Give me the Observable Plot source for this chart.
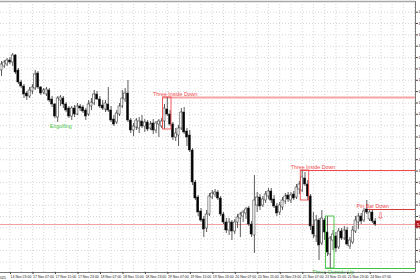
<!DOCTYPE html>
<html><head><meta charset="utf-8">
<script src="https://cdn.jsdelivr.net/npm/d3@7"></script>
<script src="https://cdn.jsdelivr.net/npm/@observablehq/plot@0.6"></script>
<style>html,body{margin:0;padding:0;background:#fff;overflow:hidden}</style>
</head><body><div id="chart"></div>
<script>
// H1 candles, 14 Nov 20:00 -> 24 Nov 09:00 (index 0..133)
const openP = [1.1630,1.1634,1.1636,1.1640,1.1638,1.1645,1.1630,1.1618,1.1614,1.1607,
1.1604,1.1609,1.1612,1.1627,1.1613,1.1608,1.1606,1.1610,1.1601,1.1596,
1.1583,1.1600,1.1602,1.1596,1.1592,1.1584,1.1592,1.1586,1.1594,1.1593,
1.1590,1.1586,1.1594,1.1597,1.1606,1.1601,1.1595,1.1591,1.1596,1.1590,
1.1581,1.1578,1.1586,1.1594,1.1601,1.1607,1.1580,1.1570,1.1573,1.1572,
1.1579,1.1574,1.1578,1.1572,1.1577,1.1570,1.1576,1.1574,1.1579,1.1591,
1.1586,1.1576,1.1563,1.1565,1.1572,1.1588,1.1569,1.1565,1.1550,1.1518,
1.1503,1.1489,1.1481,1.1472,1.1486,1.1503,1.1506,1.1508,1.1502,1.1486,
1.1478,1.1470,1.1478,1.1469,1.1478,1.1482,1.1484,1.1487,1.1492,1.1476,
1.1465,1.1495,1.1503,1.1495,1.1500,1.1504,1.1509,1.1501,1.1494,1.1488,
1.1493,1.1499,1.1505,1.1500,1.1506,1.1503,1.1511,1.1510,1.1522,1.1516,
1.1504,1.1474,1.1464,1.1480,1.1457,1.1480,1.1468,1.1446,1.1460,1.1464,
1.1453,1.1469,1.1462,1.1470,1.1454,1.1458,1.1469,1.1478,1.1484,1.1480,
1.1491,1.1481,1.1488,1.1479];
const highP = [1.1639,1.1640,1.1642,1.1643,1.1647,1.1646,1.1632,1.1620,1.1616,1.1609,
1.1613,1.1616,1.1630,1.1629,1.1614,1.1612,1.1613,1.1612,1.1604,1.1597,
1.1604,1.1605,1.1604,1.1598,1.1594,1.1594,1.1595,1.1597,1.1596,1.1595,
1.1592,1.1600,1.1602,1.1610,1.1609,1.1604,1.1600,1.1600,1.1613,1.1594,
1.1585,1.1590,1.1597,1.1610,1.1612,1.1620,1.1582,1.1577,1.1582,1.1583,
1.1585,1.1581,1.1580,1.1579,1.1581,1.1579,1.1581,1.1582,1.1596,1.1603,
1.1590,1.1578,1.1572,1.1575,1.1592,1.1593,1.1572,1.1570,1.1552,1.1520,
1.1505,1.1492,1.1484,1.1490,1.1507,1.1510,1.1511,1.1510,1.1504,1.1488,
1.1482,1.1482,1.1480,1.1481,1.1486,1.1488,1.1490,1.1493,1.1494,1.1479,
1.1525,1.1508,1.1506,1.1504,1.1509,1.1512,1.1512,1.1505,1.1497,1.1498,
1.1503,1.1507,1.1508,1.1508,1.1509,1.1516,1.1519,1.1530,1.1528,1.1520,
1.1506,1.1488,1.1485,1.1482,1.1490,1.1482,1.1484,1.1464,1.1470,1.1468,
1.1472,1.1472,1.1474,1.1473,1.1463,1.1474,1.1484,1.1487,1.1487,1.1492,
1.1500,1.1490,1.1490,1.1482];
const lowP = [1.1624,1.1632,1.1634,1.1636,1.1634,1.1626,1.1616,1.1612,1.1602,1.1600,
1.1602,1.1606,1.1610,1.1611,1.1605,1.1606,1.1604,1.1598,1.1593,1.1582,
1.1578,1.1594,1.1592,1.1588,1.1582,1.1580,1.1583,1.1585,1.1589,1.1587,
1.1580,1.1584,1.1590,1.1595,1.1600,1.1592,1.1590,1.1588,1.1588,1.1578,
1.1574,1.1576,1.1584,1.1592,1.1598,1.1578,1.1567,1.1564,1.1570,1.1567,
1.1572,1.1568,1.1569,1.1570,1.1566,1.1567,1.1563,1.1572,1.1571,1.1584,
1.1574,1.1560,1.1559,1.1554,1.1570,1.1566,1.1554,1.1548,1.1515,1.1500,
1.1484,1.1478,1.1463,1.1468,1.1484,1.1501,1.1503,1.1500,1.1484,1.1476,
1.1467,1.1465,1.1460,1.1466,1.1472,1.1463,1.1478,1.1481,1.1474,1.1463,
1.1447,1.1488,1.1490,1.1493,1.1497,1.1501,1.1497,1.1492,1.1484,1.1485,
1.1490,1.1496,1.1498,1.1497,1.1500,1.1501,1.1506,1.1508,1.1514,1.1500,
1.1470,1.1462,1.1458,1.1440,1.1455,1.1460,1.1444,1.1432,1.1450,1.1448,
1.1451,1.1460,1.1460,1.1454,1.1451,1.1456,1.1467,1.1471,1.1476,1.1478,
1.1486,1.1479,1.1477,1.1474];
const closeP = [1.1636,1.1638,1.1640,1.1638,1.1645,1.1628,1.1618,1.1614,1.1606,1.1604,
1.1610,1.1613,1.1626,1.1613,1.1607,1.1610,1.1611,1.1600,1.1596,1.1584,
1.1602,1.1603,1.1596,1.1590,1.1584,1.1592,1.1586,1.1594,1.1592,1.1589,
1.1584,1.1596,1.1598,1.1606,1.1601,1.1594,1.1592,1.1597,1.1590,1.1580,
1.1576,1.1587,1.1594,1.1602,1.1607,1.1580,1.1570,1.1574,1.1580,1.1579,
1.1574,1.1578,1.1571,1.1576,1.1570,1.1577,1.1579,1.1579,1.1592,1.1586,
1.1576,1.1563,1.1567,1.1572,1.1588,1.1568,1.1563,1.1550,1.1518,1.1502,
1.1488,1.1480,1.1471,1.1486,1.1504,1.1507,1.1508,1.1502,1.1486,1.1478,
1.1470,1.1478,1.1469,1.1478,1.1483,1.1486,1.1488,1.1491,1.1476,1.1466,
1.1500,1.1503,1.1494,1.1501,1.1506,1.1509,1.1500,1.1494,1.1487,1.1495,
1.1500,1.1504,1.1501,1.1505,1.1502,1.1513,1.1516,1.1523,1.1516,1.1504,
1.1474,1.1466,1.1480,1.1455,1.1482,1.1468,1.1448,1.1462,1.1466,1.1452,
1.1469,1.1462,1.1470,1.1456,1.1460,1.1470,1.1480,1.1484,1.1479,1.1489,
1.1488,1.1488,1.1479,1.1476];

// time axis
const xTickIdx = [3,11,19,27,35,43,51,59,67,75,83,91,99,107,115,123,131];
const xTickLabels = ["14 Nov 23:00","17 Nov 07:00","17 Nov 15:00","17 Nov 23:00","18 Nov 07:00","18 Nov 15:00",
 "18 Nov 23:00","19 Nov 07:00","19 Nov 15:00","19 Nov 23:00","20 Nov 07:00","20 Nov 15:00","20 Nov 23:00",
 "21 Nov 07:00","21 Nov 15:00","21 Nov 23:00","24 Nov 07:00"];
const firstDateLabel = "14 Nov 2025";
// price axis (MT4 pixel-spaced grid)
const yTicks = [1.16883,1.16770,1.16656,1.16543,1.16429,1.16316,1.16202,1.16089,1.15975,1.15862,1.15748,
 1.15635,1.15521,1.15408,1.15294,1.15181,1.15067,1.14954,1.14840,1.14727,1.14613,1.14500,1.14386];

// detected patterns
const patName  = ["Engulfing","Three Inside Down","Three Inside Down","Pin Bar Down","Three Outside Up"];
const patStart = [20, 58, 107, 130, 116];
const patEnd   = [20, 60, 109, 130, 118];
const patBull  = [true, false, false, false, true];
const patLevel = [null, 1.1603, 1.1530, 1.1491, 1.1432];

const candles = openP.map((o, i) => ({i, open: o, high: highP[i], low: lowP[i], close: closeP[i], up: closeP[i] >= o}));
const lastClose = closeP[closeP.length - 1];

const xDomain = [-0.36, 147.33];
const yDomain = [1.1428, 1.1699];
const RED = "#f0484c", GREEN = "#3fc43f";

const pats = patName.map((name, k) => {
  const seg = candles.slice(patStart[k], patEnd[k] + 1);
  return {name, s: patStart[k], e: patEnd[k], bull: patBull[k], level: patLevel[k],
    top: d3.max(seg, d => d.high), bot: d3.min(seg, d => d.low)};
});
const boxes = pats.filter(p => p.name.startsWith("Three"));
const levels = pats.filter(p => p.level != null);
const gridIdx = d3.range(3, 148, 4);

const chart = Plot.plot({
  width: 420, height: 280,
  marginLeft: 0, marginRight: 5, marginTop: 1, marginBottom: 8,
  style: {fontFamily: "'Liberation Sans', Arial, sans-serif", background: "#fff"},
  x: {type: "linear", domain: xDomain, axis: null},
  y: {domain: yDomain, axis: null},
  marks: [
    Plot.gridY(yTicks, {stroke: "#d6d6d6", strokeOpacity: 1, strokeDasharray: "1,2"}),
    Plot.gridX(gridIdx, {stroke: "#d6d6d6", strokeOpacity: 1, strokeDasharray: "1,2"}),
    // current price line
    Plot.ruleY([lastClose], {stroke: "#f2a0a0", strokeWidth: 1}),
    // pattern level lines
    Plot.ruleY(levels, {y: "level", x1: d => d.s - 0.5, x2: () => xDomain[1],
      stroke: (d, k) => d.bull ? GREEN : (k === 0 ? "#f5a3a3" : (d.name === "Pin Bar Down" ? "#d83a3a" : RED)),
      strokeWidth: (d, k) => k === 0 ? 2 : 1.1}),
    // candles
    Plot.ruleX(candles, {x: "i", y1: "low", y2: "high", stroke: "#333", strokeWidth: 0.8}),
    Plot.rect(candles, {x1: d => d.i - 0.37, x2: d => d.i + 0.37,
      y1: d => Math.min(d.open, d.close), y2: d => Math.max(d.open, d.close),
      fill: d => d.up ? "#fff" : "#000", stroke: "#222", strokeWidth: 0.5}),
    // pattern boxes
    Plot.rect(boxes, {x1: d => d.s - 0.5, x2: d => d.e + 0.5, y1: "bot", y2: "top",
      fill: "none", stroke: d => d.bull ? GREEN : RED, strokeWidth: 0.9}),
    // pattern labels
    Plot.text(pats.filter(p => p.name === "Three Inside Down"), {x: d => (d.s + d.e) / 2, y: "level", text: "name",
      dx: 8, dy: -3, fill: RED, fontSize: 5.3}),
    Plot.text(pats.filter(p => p.name === "Pin Bar Down"), {x: "s", y: "level", text: "name",
      dx: 6, dy: -3, fill: RED, fontSize: 5.3}),
    Plot.text(pats.filter(p => p.name === "Pin Bar Down"), {x: "s", y: "level", text: () => "\u21E9",
      dx: 14, dy: 6.5, fill: RED, fontSize: 9, fontFamily: "DejaVu Sans"}),
    Plot.text(pats.filter(p => p.name === "Three Outside Up"), {x: d => (d.s + d.e) / 2, y: "level", text: "name",
      dx: 3, dy: 4, fill: GREEN, fontSize: 5.3}),
    Plot.text(pats.filter(p => p.name === "Engulfing"), {x: "s", y: "bot", text: "name",
      dx: 3, dy: 4, fill: GREEN, fontSize: 5.3}),
    // frame lines
    Plot.ruleY([yDomain[1]], {stroke: "#a8a8a8", strokeWidth: 1.5}),
    Plot.ruleY([yDomain[0]], {stroke: "#555", strokeWidth: 0.8}),
    Plot.ruleX([xDomain[1]], {stroke: "#555", strokeWidth: 0.8}),
    // axes
    Plot.axisX(xTickIdx, {anchor: "bottom", tickSize: 2, tickPadding: 1, fontSize: 3.5, textAnchor: "start",
      dx: 0.6, stroke: "#444", fill: "#222", tickFormat: d => xTickLabels[xTickIdx.indexOf(d)]}),
    Plot.text([firstDateLabel], {x: () => 1.6, y: () => yDomain[0], text: d => d, textAnchor: "end",
      dy: 5, fontSize: 3.5, fill: "#222"}),
    Plot.axisY(yTicks, {anchor: "right", tickSize: 2, tickPadding: 1, fontSize: 3.5, textAnchor: "start",
      stroke: "#444", fill: "#222", tickFormat: d3.format(".5f")}),
    // current price tag
    Plot.rect([lastClose], {x1: () => xDomain[1] + 0.1, x2: () => xDomain[1] + 3, y1: d => d - 0.00035, y2: d => d + 0.00035,
      fill: "#b8141c"}),
    Plot.text([lastClose], {x: () => xDomain[1] + 0.5, y: d => d, text: d => d.toFixed(5), textAnchor: "start",
      fill: "#fff", fontSize: 3.8, fontWeight: "bold"})
  ]
});
document.getElementById("chart").appendChild(chart);
</script>
</body></html>
